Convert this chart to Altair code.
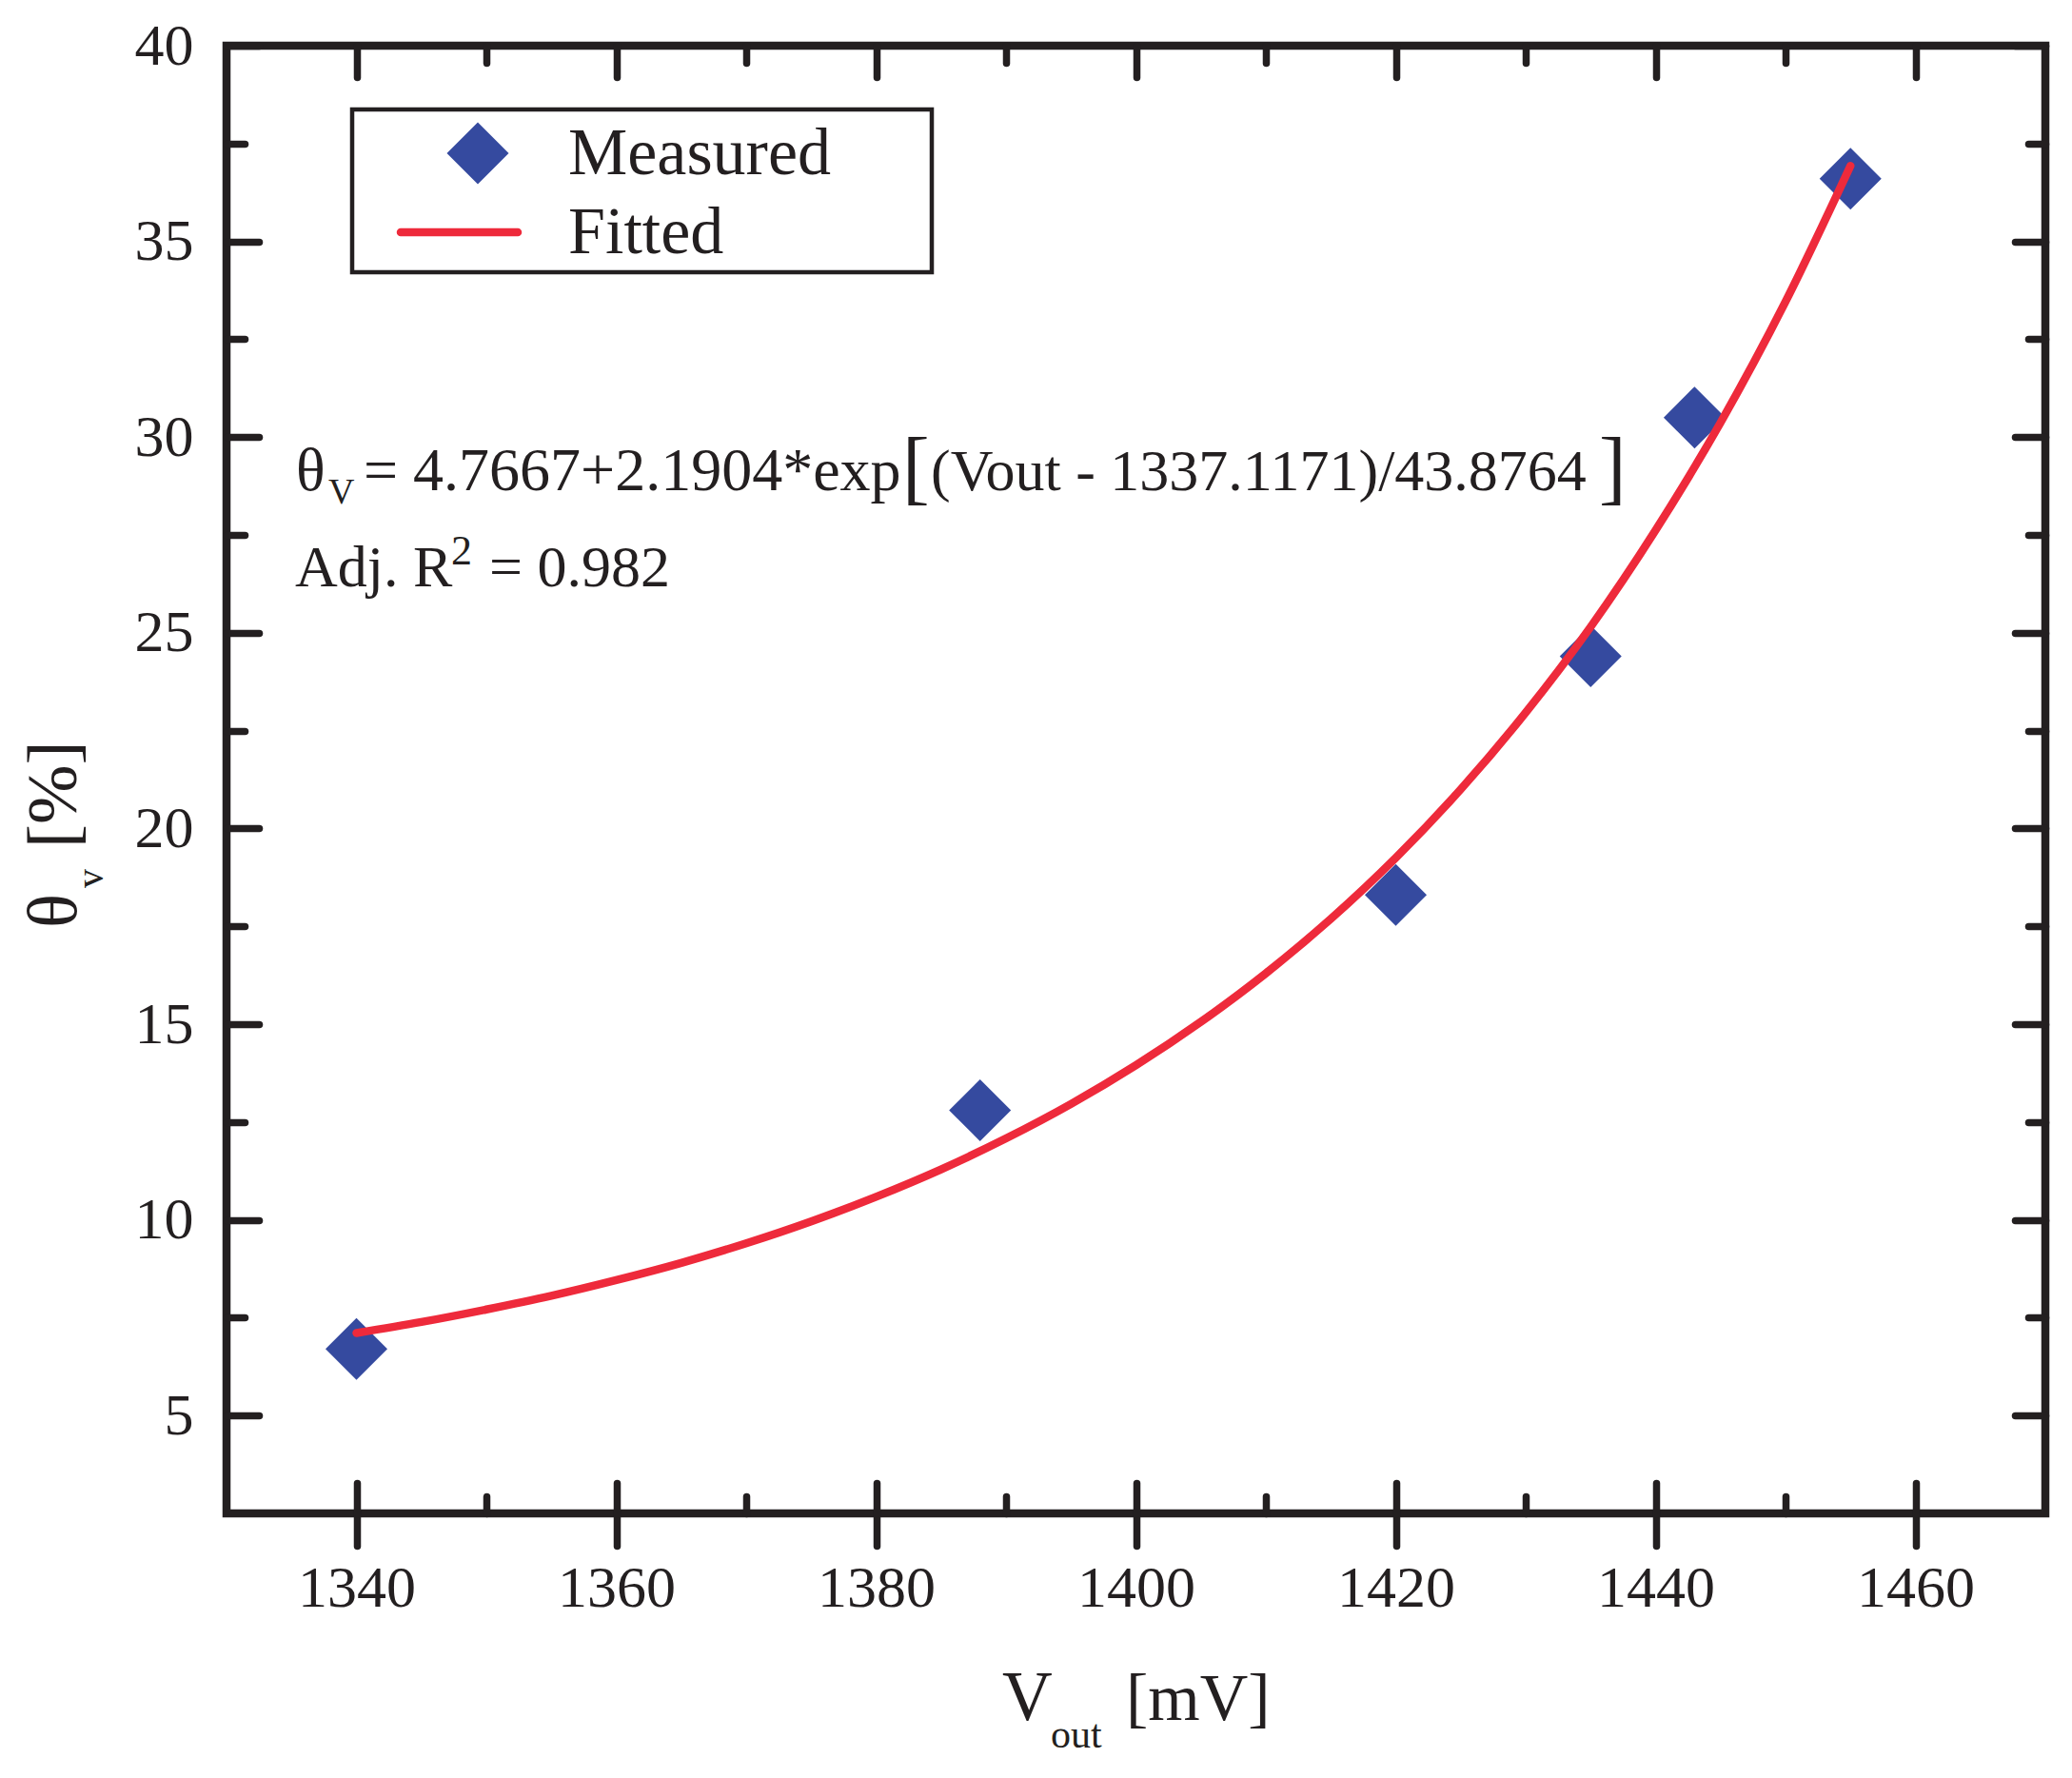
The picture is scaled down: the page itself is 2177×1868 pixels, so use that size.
import altair as alt
import pandas as pd

# ---------------- data ----------------
vout_measured = [1340, 1388, 1420, 1435, 1443, 1455]
theta_measured = [6.7, 12.8, 18.3, 24.4, 30.5, 36.6]

vout_fit = [1340, 1345, 1350, 1355, 1360, 1365, 1370, 1375, 1380, 1385, 1390, 1395,
            1400, 1405, 1410, 1415, 1420, 1425, 1430, 1435, 1440, 1445, 1450, 1455]
theta_fit = [7.11, 7.39, 7.71, 8.06, 8.46, 8.90, 9.40, 9.96, 10.59, 11.29, 12.08, 12.96,
             13.95, 15.06, 16.30, 17.69, 19.25, 21.00, 22.96, 25.15, 27.62, 30.37, 33.46, 36.93]

x_major = [1340, 1360, 1380, 1400, 1420, 1440, 1460]
x_minor = [1350, 1370, 1390, 1410, 1430, 1450]
y_major = [5, 10, 15, 20, 25, 30, 35, 40]
y_minor = [7.5, 12.5, 17.5, 22.5, 27.5, 32.5, 37.5]

x_domain = [1330, 1470]
y_domain = [2.5, 40]

# ---------------- style ----------------
INK = "#231F20"
BLUE = "#354A9F"
RED = "#EE2A3B"
FONT = "Liberation Serif"
W, H = 1911, 1542
TW = 7.5

measured = pd.DataFrame({"vout": vout_measured, "theta": theta_measured})
fitted = pd.DataFrame({"vout": vout_fit, "theta": theta_fit})

xs = alt.Scale(domain=x_domain, nice=False, zero=False)
ys = alt.Scale(domain=y_domain, nice=False, zero=False)


def tick_axis(orient, values, size, offset=None):
    kw = dict(orient=orient, values=values, tickSize=size, ticks=True, labels=False,
              domain=False, grid=False, title="", tickColor=INK, tickWidth=TW,
              tickCap="round")
    if offset is not None:
        kw["offset"] = offset
    return alt.Axis(**kw)


x_main = alt.Axis(orient="bottom", values=x_major, format="d", tickSize=34, ticks=True,
                  labels=True, labelFont=FONT, labelFontSize=62, labelColor=INK,
                  labelPadding=14, labelFlush=False, labelOverlap=False, domain=False,
                  grid=False, title="", tickColor=INK, tickWidth=TW, tickCap="round")
y_main = alt.Axis(orient="left", values=y_major, format="d", ticks=False, labels=True,
                  labelFont=FONT, labelFontSize=62, labelColor=INK, labelPadding=35,
                  labelFlush=False, labelOverlap=False, domain=False, grid=False, title="")

# measured diamonds (with the labelled axes)
pts = alt.Chart(measured).mark_point(shape="diamond", filled=True, size=4225,
                                     color=BLUE, opacity=1, strokeWidth=0).encode(
    x=alt.X("vout:Q", scale=xs, axis=x_main),
    y=alt.Y("theta:Q", scale=ys, axis=y_main),
)

# fitted curve
line = alt.Chart(fitted).mark_line(color=RED, strokeWidth=8.5, strokeCap="round",
                                   interpolate="monotone").encode(
    x=alt.X("vout:Q", scale=xs, axis=tick_axis("top", x_major, 32, -H)),
    y=alt.Y("theta:Q", scale=ys, axis=tick_axis("right", y_major, 34, -W)),
)

# invisible layers carrying the remaining inward ticks
inv1 = alt.Chart(measured).mark_point(opacity=0).encode(
    x=alt.X("vout:Q", scale=xs, axis=tick_axis("top", x_minor, 18, -H)),
    y=alt.Y("theta:Q", scale=ys, axis=tick_axis("right", y_minor, 19, -W)),
)
inv2 = alt.Chart(measured).mark_point(opacity=0).encode(
    x=alt.X("vout:Q", scale=xs, axis=tick_axis("bottom", x_major, 33, -H)),
    y=alt.Y("theta:Q", scale=ys, axis=tick_axis("left", y_major, 32, -W)),
)
inv3 = alt.Chart(measured).mark_point(opacity=0).encode(
    x=alt.X("vout:Q", scale=xs, axis=tick_axis("bottom", x_minor, 18, -H)),
    y=alt.Y("theta:Q", scale=ys, axis=tick_axis("left", y_minor, 18, -W)),
)

one = alt.Data(values=[{"k": 1}])


def txt(s, x, y, size, angle=None):
    props = dict(text=s, font=FONT, fontSize=size, color=INK, align="left",
                 baseline="alphabetic")
    if angle is not None:
        props["angle"] = angle
    return alt.Chart(one).mark_text(**props).encode(x=alt.value(x), y=alt.value(y))


# equation and R^2
texts = [
    txt("θ", 73, 467, 64),
    txt("V", 107, 481, 38),
    txt("= 4.7667+2.1904*exp", 144, 467, 64),
    txt("[", 710, 471, 86),
    txt("(Vout - 1337.1171)/43.8764", 740, 467, 62),
    txt("]", 1442, 471, 86),
    txt("Adj. R", 72, 568, 62),
    txt("2", 236, 545, 44),
    txt("= 0.982", 276, 568, 62),
    # x axis title
    txt("V", 815, 1759, 73),
    txt("out", 866, 1788, 42),
    txt("[mV]", 945, 1759, 70),
    # y axis title (rotated)
    txt("θ", -158, 927, 75, angle=270),
    txt("v", -130, 885, 40, angle=270),
    txt("[%]", -158, 843, 75, angle=270),
    # legend labels
    txt("Measured", 359, 135, 70),
    txt("Fitted", 359, 218, 70),
]

legend_box = alt.Chart(one).mark_rect(fill="transparent", stroke=INK, strokeWidth=4.5).encode(
    x=alt.value(132), x2=alt.value(741), y=alt.value(67), y2=alt.value(238))
legend_diamond = alt.Chart(one).mark_point(shape="diamond", filled=True, size=4225,
                                           color=BLUE, opacity=1, strokeWidth=0).encode(
    x=alt.value(264), y=alt.value(113))
legend_line = alt.Chart(one).mark_rule(color=RED, strokeWidth=8.5, strokeCap="round").encode(
    x=alt.value(183), x2=alt.value(306), y=alt.value(196))

chart = alt.layer(
    pts, line, inv1, inv2, inv3, legend_box, legend_diamond, legend_line, *texts
).resolve_scale(
    x="shared", y="shared"
).resolve_axis(
    x="independent", y="independent"
).properties(
    width=W, height=H,
    autosize=alt.AutoSizeParams(type="none"),
    padding={"left": 230, "top": 40, "right": 20, "bottom": 265},
).configure(
    background="white"
).configure_view(
    stroke=INK, strokeWidth=8.5
)

chart.save("out.html", embed_options={"renderer": "svg", "actions": False})
